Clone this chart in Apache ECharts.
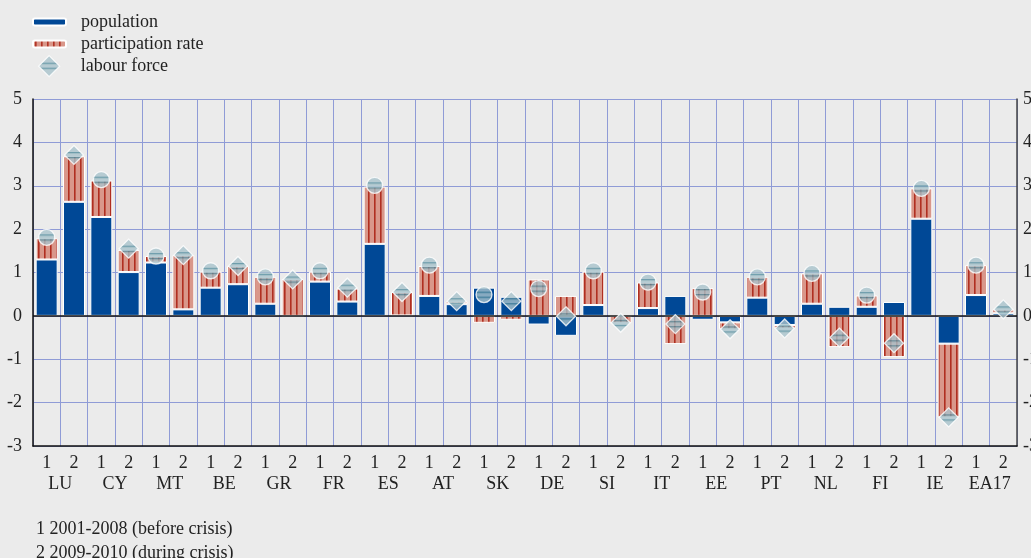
<!DOCTYPE html>
<html>
<head>
<meta charset="utf-8">
<script src="https://cdn.jsdelivr.net/npm/echarts@6/dist/echarts.min.js"></script>
<style>
  html, body { margin: 0; padding: 0; background: #ebebeb; }
  #chart { width: 1031px; height: 558px; }
</style>
</head>
<body>
<div id="chart"></div>
<script>
// labour force growth decomposition, two periods per country
var countries = ['LU', 'CY', 'MT', 'BE', 'GR', 'FR', 'ES', 'AT', 'SK', 'DE', 'SI', 'IT', 'EE', 'PT', 'NL', 'FI', 'IE', 'EA17'];
var periods = ['1', '2'];
var yTicks = { min: -3, max: 5, step: 1 };

// values in country order, period 1 then period 2
var population = [1.30, 2.63, 2.28, 1.01, 1.23, 0.15, 0.65, 0.73, 0.28, 0.00, 0.79, 0.33,
    1.66, 0.01, 0.46, 0.27, 0.65, 0.44, -0.20, -0.46, 0.25, 0.01, 0.18, 0.46,
    -0.09, -0.15, 0.42, -0.21, 0.28, 0.21, 0.21, 0.32, 2.24, -0.64, 0.48, 0.06];
var participation = [0.49, 1.05, 0.84, 0.51, 0.15, 1.25, 0.37, 0.42, 0.62, 0.85, 0.23, 0.30,
    1.32, 0.54, 0.69, 0.06, -0.16, -0.09, 0.84, 0.46, 0.77, -0.17, 0.59, -0.65,
    0.64, -0.16, 0.48, -0.08, 0.70, -0.72, 0.26, -0.95, 0.70, -1.70, 0.69, 0.09];
var labourForce = [1.81, 3.71, 3.14, 1.55, 1.38, 1.40, 1.04, 1.15, 0.90, 0.84, 1.04, 0.65,
    3.01, 0.55, 1.17, 0.34, 0.49, 0.34, 0.63, -0.01, 1.04, -0.16, 0.78, -0.19,
    0.55, -0.31, 0.90, -0.29, 0.98, -0.50, 0.48, -0.63, 2.94, -2.34, 1.17, 0.15];
var footnote = ['1 2001-2008 (before crisis)', '2 2009-2010 (during crisis)'];

var serif = 'Liberation Serif';
var gridColor = '#8f9bd6';

// striped fills
function stripes(w, h, bg, fg, draw) {
    var c = document.createElement('canvas');
    c.width = w; c.height = h;
    var ctx = c.getContext('2d');
    ctx.fillStyle = bg;
    ctx.fillRect(0, 0, w, h);
    ctx.fillStyle = fg;
    draw(ctx);
    return c;
}
var partCanvas = stripes(6, 4, '#d9978a', '#b02e20', function (ctx) { ctx.fillRect(2, 0, 1.6, 4); });
var partFill = { image: partCanvas, repeat: 'repeat' };

var markCanvas = stripes(20, 20, '#a9c4cc', '#4f8a9c', function (ctx) {
    ctx.fillRect(0, 2, 20, 1.3);
    ctx.fillRect(0, 17, 20, 1.3);
});
function markFill(size) {
    return { image: markCanvas, repeat: 'repeat', scaleX: 2 / size, scaleY: 2 / size };
}
var legendMarkCanvas = stripes(20, 20, '#a9c4cc', '#4f8a9c', function (ctx) {
    ctx.fillRect(0, 7, 20, 1.3);
    ctx.fillRect(0, 12, 20, 1.3);
});

var categories = [];
countries.forEach(function (c) {
    periods.forEach(function (p) { categories.push(c + '|' + p); });
});

var lfData = labourForce.map(function (v, i) {
    var first = categories[i].split('|')[1] === '1';
    var size = first ? 16 : 19;
    return {
        value: v,
        symbol: first ? 'circle' : 'diamond',
        symbolSize: size,
        itemStyle: { color: markFill(size), borderColor: '#fff', borderWidth: 1.3 }
    };
});

var chart = echarts.init(document.getElementById('chart'));
var option = {
    backgroundColor: '#ebebeb',
    animation: false,
    textStyle: { fontFamily: serif, color: '#222' },
    title: {
        text: footnote.join('\n'),
        left: 31,
        top: 512,
        textStyle: { fontFamily: serif, fontSize: 18, fontWeight: 'normal', color: '#222', lineHeight: 24 }
    },
    legend: [
        {
            data: ['population', 'participation rate'],
            orient: 'vertical',
            left: 32,
            top: 13,
            padding: 0,
            itemWidth: 33,
            itemHeight: 7,
            itemGap: 4,
            textStyle: { fontFamily: serif, fontSize: 18, color: '#222', padding: [0, 0, 0, 10] }
        },
        {
            data: [{
                name: 'labour force',
                icon: 'diamond',
                itemStyle: { color: { image: legendMarkCanvas, repeat: 'repeat' }, borderColor: '#fff', borderWidth: 1.3 }
            }],
            left: 38,
            top: 55,
            padding: 0,
            itemWidth: 21,
            itemHeight: 21,
            textStyle: { fontFamily: serif, fontSize: 18, color: '#222', padding: [0, 0, 0, 16] }
        }
    ],
    grid: { left: 33, right: 14, top: 99, bottom: 112, outerBoundsMode: 'none', containLabel: false },
    xAxis: [
        {
            type: 'category',
            data: categories,
            position: 'bottom',
            axisLine: { onZero: false, lineStyle: { color: '#111', width: 1.5 } },
            axisTick: { length: 8, lineStyle: { color: '#111', width: 1.5 } },
            splitLine: { show: true, lineStyle: { color: gridColor, width: 1 } },
            axisLabel: {
                margin: 8,
                fontFamily: serif,
                fontSize: 18,
                color: '#222',
                interval: 0,
                formatter: function (v) { return v.split('|')[1]; }
            }
        },
        {
            type: 'category',
            data: countries,
            position: 'bottom',
            offset: 21,
            axisLine: { show: false },
            axisTick: { show: false },
            axisLabel: { margin: 8, fontFamily: serif, fontSize: 18, color: '#222', interval: 0 }
        }
    ],
    yAxis: [
        {
            type: 'value',
            min: yTicks.min,
            max: yTicks.max,
            interval: yTicks.step,
            axisLine: { show: true, lineStyle: { color: '#111', width: 1.5 } },
            axisTick: { show: false },
            splitLine: { lineStyle: { color: gridColor, width: 1 } },
            axisLabel: { margin: 11, fontFamily: serif, fontSize: 18, color: '#222' }
        },
        {
            type: 'value',
            position: 'right',
            min: yTicks.min,
            max: yTicks.max,
            interval: yTicks.step,
            axisLine: { show: true, lineStyle: { color: '#444', width: 1.5 } },
            axisTick: { show: false },
            splitLine: { show: false },
            axisLabel: { margin: 6, fontFamily: serif, fontSize: 18, color: '#222' }
        }
    ],
    series: [
        {
            name: 'population',
            type: 'bar',
            stack: 'lf',
            barWidth: 22,
            data: population,
            itemStyle: { color: '#004896', borderColor: '#fff', borderWidth: 1 },
            markLine: {
                silent: true,
                symbol: 'none',
                label: { show: false },
                lineStyle: { color: '#111', width: 1.5, type: 'solid' },
                data: [{ yAxis: 0 }]
            }
        },
        {
            name: 'participation rate',
            type: 'bar',
            stack: 'lf',
            barWidth: 22,
            data: participation,
            itemStyle: { color: partFill, borderColor: '#fff', borderWidth: 1 }
        },
        {
            name: 'labour force',
            type: 'scatter',
            z: 5,
            data: lfData
        }
    ]
};
chart.setOption(option);

setTimeout(function () {
    window.onresize = function () {
        chart.resize();
    };
}, 200);
</script>
</body>
</html>
